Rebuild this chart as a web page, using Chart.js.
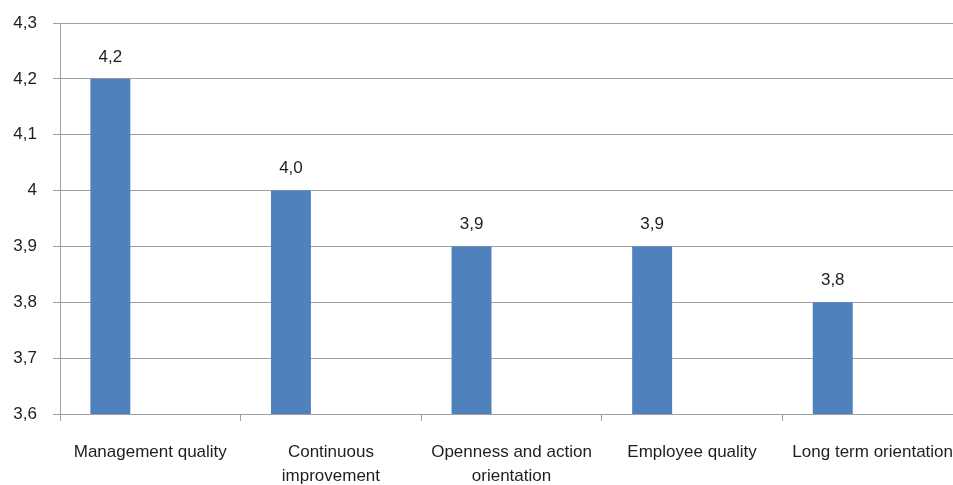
<!DOCTYPE html>
<html>
<head>
<meta charset="utf-8">
<script src="https://cdn.jsdelivr.net/npm/chart.js@4.4.1/dist/chart.umd.min.js"></script>
<style>
  html, body { margin: 0; padding: 0; background: #fff; overflow: hidden; }
  #wrap { position: relative; width: 975px; height: 485px; }
</style>
</head>
<body>
<div id="wrap"><canvas id="barChart"></canvas></div>
<script>
// chart data
var categories = [
    'Management quality',
    ['Continuous', 'improvement'],
    ['Openness and action', 'orientation'],
    'Employee quality',
    'Long term orientation'
];
var scores = [4.2, 4.0, 3.9, 3.9, 3.8];
var emptySeries = [null, null, null, null, null];   // second (empty) series, keeps bars left of centre
var yMin = 3.6;
var yMax = 4.3;
var yStep = 0.1;

var textColor = '#1e1e1e';
var lineColor = '#a0a0a0';

function commaNum(v, fixed) {
    var r = Math.round(v * 10) / 10;
    var s = fixed ? r.toFixed(1) : String(r);
    return s.replace('.', ',');
}

// draws the value above each bar
var valueLabels = {
    id: 'valueLabels',
    afterDatasetsDraw: function(chart) {
        var ctx = chart.ctx;
        var meta = chart.getDatasetMeta(0);
        ctx.save();
        ctx.fillStyle = textColor;
        ctx.font = '17px "Liberation Sans", Arial, sans-serif';
        ctx.textAlign = 'center';
        ctx.textBaseline = 'middle';
        meta.data.forEach(function(bar, i) {
            ctx.fillText(commaNum(scores[i], true), bar.x, bar.y - 22);
        });
        ctx.restore();
    }
};

var ctx1 = document.getElementById('barChart').getContext('2d');
window.myChart1 = new Chart(ctx1, {
    type: 'bar',
    data: {
        labels: categories,
        datasets: [{
            label: 'Score',
            data: scores,
            backgroundColor: '#4f81bd',
            borderWidth: 0
        }, {
            label: 'Empty',
            data: emptySeries,
            backgroundColor: '#c0504d',
            borderWidth: 0
        }]
    },
    options: {
        responsive: true,
        maintainAspectRatio: false,
        animation: false,
        categoryPercentage: 0.885,
        barPercentage: 0.5,
        layout: {
            padding: { top: 23, right: 12, left: 0, bottom: 0 }
        },
        plugins: {
            legend: { display: false },
            tooltip: { enabled: false }
        },
        scales: {
            x: {
                offset: true,
                grid: {
                    offset: true,
                    drawOnChartArea: false,
                    drawTicks: true,
                    tickLength: 7,
                    color: lineColor
                },
                border: { color: lineColor, width: 1 },
                ticks: {
                    autoSkip: false,
                    maxRotation: 0,
                    minRotation: 0,
                    padding: 19,
                    color: textColor,
                    font: { family: '"Liberation Sans", Arial, sans-serif', size: 17, lineHeight: 1.42 }
                },
                afterFit: function(scale) { scale.height = 71; }
            },
            y: {
                min: yMin,
                max: yMax,
                grid: {
                    color: lineColor,
                    tickLength: 7
                },
                border: { color: lineColor, width: 1 },
                ticks: {
                    stepSize: yStep,
                    padding: 16,
                    color: textColor,
                    font: { family: '"Liberation Sans", Arial, sans-serif', size: 17 },
                    callback: function(v) { return commaNum(v, false); }
                },
                afterFit: function(scale) {
                    scale.width = 60;
                    scale.paddingTop = 0;
                    scale.paddingBottom = 0;
                }
            }
        }
    },
    plugins: [valueLabels]
});
</script>
</body>
</html>
